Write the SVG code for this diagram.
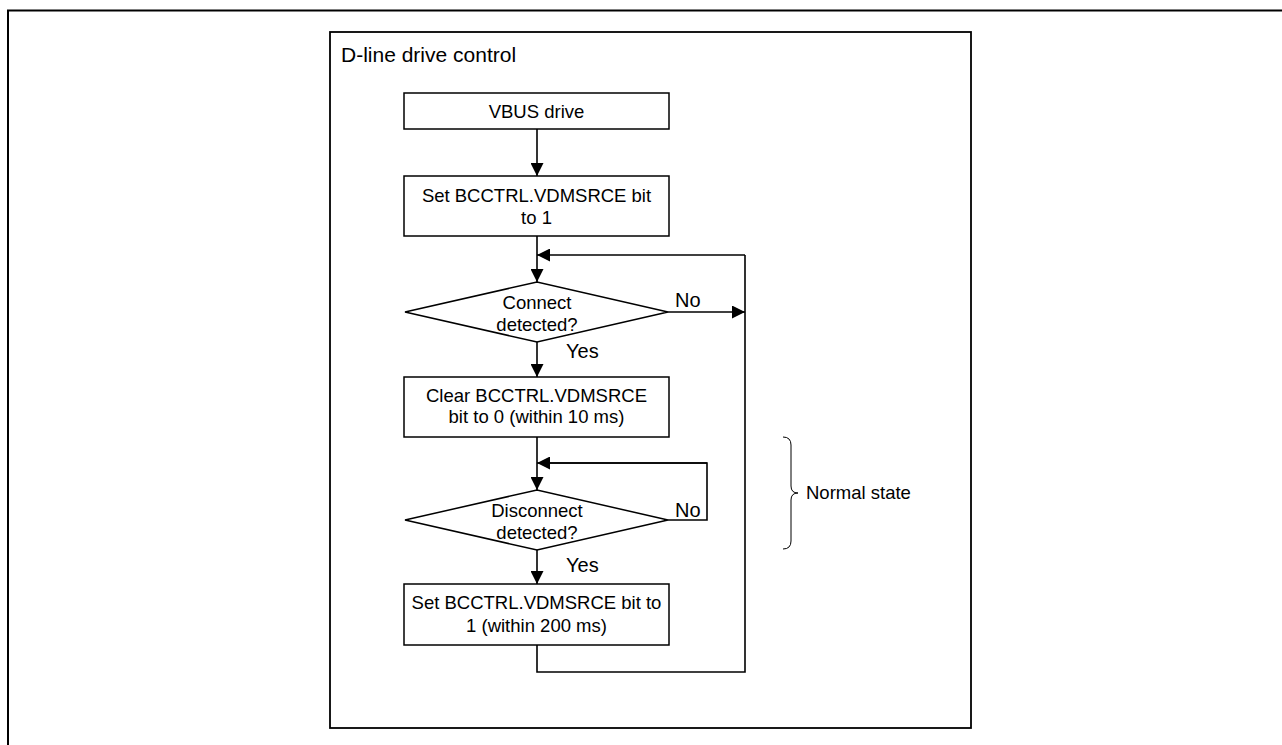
<svg xmlns="http://www.w3.org/2000/svg" width="1282" height="745" viewBox="0 0 1282 745">
<defs>
<marker id="ah" viewBox="0 0 13 13" refX="13" refY="6.5" markerWidth="13" markerHeight="13" markerUnits="userSpaceOnUse" orient="auto">
<path d="M0,0 L13,6.5 L0,13 Z" fill="#000"/>
</marker>
<style>
text{font-family:"Liberation Sans",Arial,sans-serif;fill:#000}
.box{fill:#fff;stroke:#000;stroke-width:1.5}
.t{font-size:18.5px;text-anchor:middle}
.lbl{font-size:20px}
.ln{fill:none;stroke:#000;stroke-width:1.6}
.arr{fill:none;stroke:#000;stroke-width:1.6;marker-end:url(#ah)}
</style>
</defs>
<rect width="1282" height="745" fill="#fff"/>
<path d="M8,745 V10.5 H1282" fill="none" stroke="#000" stroke-width="2"/>
<g id="frame">
<rect x="330" y="32" width="641" height="696" fill="none" stroke="#000" stroke-width="1.8"/>
<text x="341" y="62" style="font-size:21px">D-line drive control</text>
</g>
<g id="connectors">
<line class="arr" x1="537" y1="129" x2="537" y2="176"/>
<line class="arr" x1="537" y1="236" x2="537" y2="282"/>
<line class="arr" x1="745" y1="255" x2="537" y2="255"/>
<line class="arr" x1="668" y1="312" x2="745" y2="312"/>
<line class="arr" x1="537" y1="342" x2="537" y2="377"/>
<line class="arr" x1="537" y1="437" x2="537" y2="490"/>
<polyline class="ln" points="668,520 707,520 707,463 550,463"/>
<line class="arr" x1="707" y1="463" x2="537" y2="463"/>
<line class="arr" x1="537" y1="550" x2="537" y2="584"/>
<polyline class="ln" points="537,645 537,672 745,672 745,255"/>
<text class="lbl" x="675" y="307">No</text>
<text class="lbl" x="566" y="358">Yes</text>
<text class="lbl" x="675" y="517">No</text>
<text class="lbl" x="566" y="572">Yes</text>
</g>
<g id="n1">
<rect class="box" x="404" y="93" width="265" height="36"/>
<text class="t" x="536.5" y="118">VBUS drive</text>
</g>
<g id="n2">
<rect class="box" x="404" y="176" width="265" height="60"/>
<text class="t" x="536.5" y="202">Set BCCTRL.VDMSRCE bit</text>
<text class="t" x="536.5" y="224">to 1</text>
</g>
<g id="d1">
<polygon class="box" points="405,312 537,282 668,312 537,342"/>
<text class="t" x="537" y="309">Connect</text>
<text class="t" x="537" y="331">detected?</text>
</g>
<g id="n3">
<rect class="box" x="404" y="377" width="265" height="60"/>
<text class="t" x="536.5" y="402">Clear BCCTRL.VDMSRCE</text>
<text class="t" x="536.5" y="423">bit to 0 (within 10 ms)</text>
</g>
<g id="d2">
<polygon class="box" points="405,520 537,490 668,520 537,550"/>
<text class="t" x="537" y="517">Disconnect</text>
<text class="t" x="537" y="539">detected?</text>
</g>
<g id="n4">
<rect class="box" x="404" y="584" width="265" height="61"/>
<text class="t" x="536.5" y="609">Set BCCTRL.VDMSRCE bit to</text>
<text class="t" x="536.5" y="632">1 (within 200 ms)</text>
</g>
<g id="brace">
<path d="M783,437 Q791,437 791,445 V486 Q791,493 798,493 Q791,493 791,500 V541 Q791,549 783,549" fill="none" stroke="#000" stroke-width="1"/>
<text x="806" y="499" style="font-size:18.5px">Normal state</text>
</g>
</svg>
